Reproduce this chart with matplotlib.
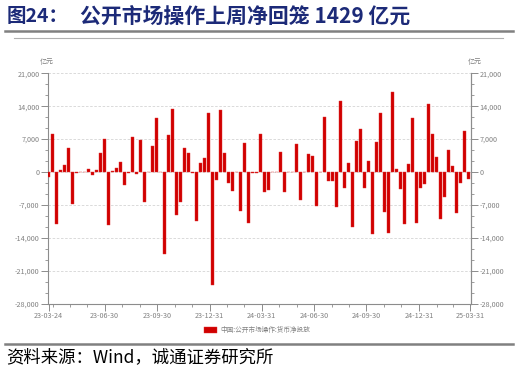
import numpy as np
import pandas as pd
import matplotlib
matplotlib.use("Agg")
import matplotlib.pyplot as plt
import matplotlib.dates as mdates
from matplotlib.lines import Line2D
from matplotlib.ticker import MultipleLocator, FuncFormatter

plt.rcParams['font.family'] = ['Noto Sans CJK SC', 'DejaVu Sans']
plt.rcParams['axes.unicode_minus'] = False

# weekly net injection (亿元), week ending Fridays from 2023-03-24
weeks = pd.date_range("2023-03-24", periods=106, freq="7D")
net_injection = [
    -1000, 8050, -11130, 350, 1540, 5040, -6790, -280, 60, -60,
    560, -630, 350, 4060, 7000, -11340, 210, 770, 2240, -2800,
    -280, 7490, -490, 6720, -6440, 100, 5460, 11410, 0, -17500,
    7840, 13510, -9100, -6300, 5110, 4060, -280, -10430, 1900, 2980,
    12460, -23940, -1750, 13300, 4060, -2240, -4060, 0, -8260, 6230,
    -10920, -100, -100, 8190, -4340, -3850, 0, 0, 4340, -4270,
    0, 0, 5950, -5880, 0, 3850, 3430, -7280, 0, 11620,
    -1960, -1960, -7400, 15050, -3320, 1960, -11690, 6650, 9100, -3360,
    2310, -13230, 6370, 12460, -8400, -12880, 16940, 700, -3710, -11130,
    1750, 11410, -10780, -3290, -2450, 14420, 7990, 3220, -10010, -5390,
    4760, 1260, -8680, -2380, 8750, -1429,
]
tick_dates = pd.to_datetime(["2023-03-24", "2023-06-30", "2023-09-30", "2023-12-31",
                             "2024-03-31", "2024-06-30", "2024-09-30", "2024-12-31",
                             "2025-03-31"])
tick_labels = ["23-03-24", "23-06-30", "23-09-30", "23-12-31", "24-03-31",
               "24-06-30", "24-09-30", "24-12-31", "25-03-31"]
y_ticks = [-28000, -21000, -14000, -7000, 0, 7000, 14000, 21000]

W, H = 519, 374
fig = plt.figure(figsize=(W / 100, H / 100), dpi=100)
ax = fig.add_axes([47.7 / W, 1 - 303.7 / H, (471 - 47.7) / W, (303.7 - 73.3) / H])

gray = "#8c8c8c"
ax.bar(weeks, net_injection, width=4.8, color="#d00000", edgecolor="#e03030",
       linewidth=0.3, zorder=3, label="中国:公开市场操作:货币净投放")

ax.set_ylim(-28000, 21000)
ax.set_xlim(pd.Timestamp("2023-03-22 12:00"), pd.Timestamp("2025-04-01"))
ax.set_yticks(y_ticks)
ax.yaxis.set_minor_locator(MultipleLocator(7000 / 3))
fmt = FuncFormatter(lambda v, p: f"{int(v):,}")
ax.yaxis.set_major_formatter(fmt)
ax.grid(axis="y", which="major", linestyle=(0, (3, 2)), color="#d4d4d4", linewidth=0.6, zorder=0)

ax.set_xticks(tick_dates)
ax.set_xticklabels(tick_labels)
ax.set_xticks(pd.date_range("2023-03-31", "2025-03-31", freq="ME"), minor=True)

ax.spines["top"].set_visible(False)
for s in ["left", "right", "bottom"]:
    ax.spines[s].set_color(gray)
    ax.spines[s].set_linewidth(0.8)

ax.tick_params(axis="both", which="major", labelsize=5.2, colors=gray, labelcolor="#808080",
               length=5, width=0.7, pad=1)
ax.tick_params(axis="both", which="minor", colors=gray, length=2.5, width=0.6)
ax.tick_params(axis="y", which="both", left=True, right=False)

ax2 = ax.twinx()
ax2.set_ylim(ax.get_ylim())
ax2.set_yticks(y_ticks)
ax2.yaxis.set_minor_locator(MultipleLocator(7000 / 3))
ax2.yaxis.set_major_formatter(fmt)
for s in ["top", "left", "bottom"]:
    ax2.spines[s].set_visible(False)
ax2.spines["right"].set_color(gray)
ax2.spines["right"].set_linewidth(0.8)
ax2.tick_params(axis="y", which="major", labelsize=5.2, colors=gray, labelcolor="#808080",
                length=5, width=0.7, pad=1)
ax2.tick_params(axis="y", which="minor", colors=gray, length=2.5, width=0.6)

fig.text(46.7 / W, 1 - 61.7 / H, "亿元", fontsize=5, color="#808080", ha="center", va="center")
fig.text(475 / W, 1 - 61.7 / H, "亿元", fontsize=5, color="#808080", ha="center", va="center")

h, l = ax.get_legend_handles_labels()
fig.legend(h, l, loc="center", bbox_to_anchor=(257 / W, 1 - 330 / H), frameon=False,
           fontsize=4.8, labelcolor="#808080", handlelength=2.0, handleheight=1.0,
           handletextpad=0.5)

# header and footer
navy = "#1c2a78"
fig.text(7 / W, 1 - 16 / H, "图24：", fontsize=14, fontweight="bold", color=navy,
         ha="left", va="center")
fig.text(80 / W, 1 - 16 / H, "公开市场操作上周净回笼 1429 亿元", fontsize=15,
         fontweight="bold", color=navy, ha="left", va="center")
fig.add_artist(Line2D([5 / W, 513 / W], [1 - 31 / H] * 2, lw=1.8, color="#808080"))
fig.add_artist(Line2D([14 / W, 503 / W], [1 - 38 / H] * 2, lw=0.8, color="#b0b0b0"))
fig.add_artist(Line2D([5 / W, 513 / W], [1 - 344 / H] * 2, lw=1.8, color="#808080"))
fig.text(6 / W, 1 - 357.5 / H, "资料来源：Wind，诚通证券研究所", fontsize=12.5,
         color="black", ha="left", va="center")

fig.savefig("out.png", dpi=100)
